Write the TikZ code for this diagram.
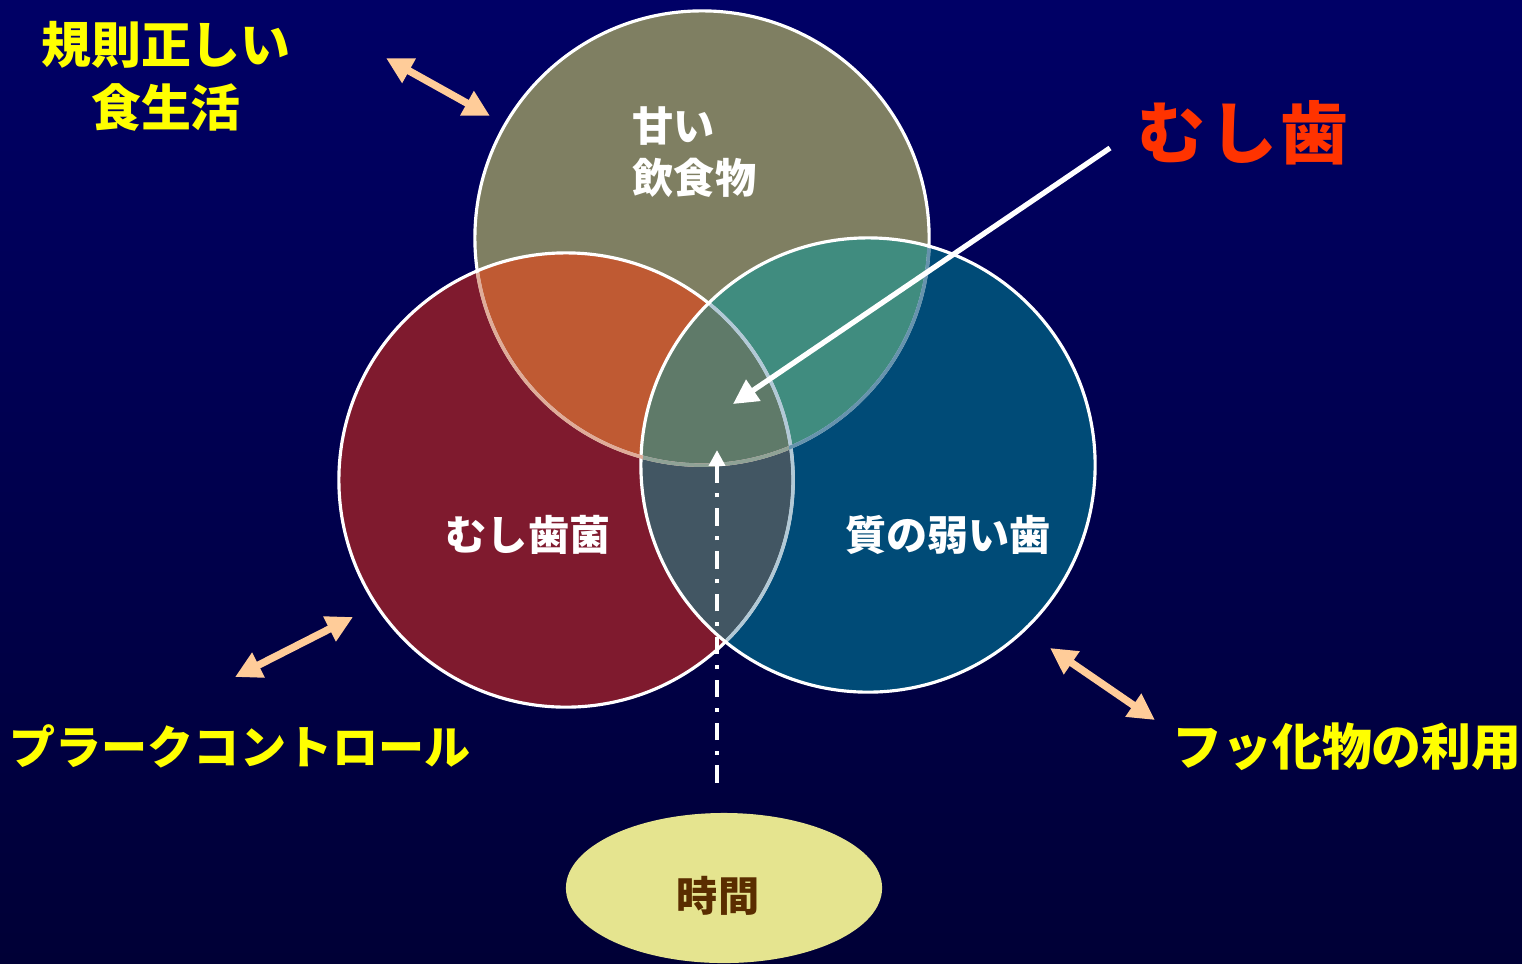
\documentclass[tikz,border=0pt]{standalone}
\usepackage{fontspec}
\newfontfamily\jp{Noto Sans CJK JP}
\usetikzlibrary{arrows.meta,shapes.geometric}
\definecolor{bgtop}{HTML}{000066}
\definecolor{bgbot}{HTML}{000036}
\definecolor{colT}{HTML}{7F7F62}
\definecolor{colL}{HTML}{7F1A2E}
\definecolor{colR}{HTML}{004B77}
\definecolor{colTL}{HTML}{BF5A33}
\definecolor{colTR}{HTML}{408C7F}
\definecolor{colLR}{HTML}{425663}
\definecolor{colC}{HTML}{5F7A69}
\definecolor{ellcol}{HTML}{E5E48F}
\definecolor{brown}{HTML}{5A2D00}
\definecolor{peach}{HTML}{FFCC99}
\definecolor{ylw}{HTML}{FFFF00}
\definecolor{redtxt}{HTML}{FF3300}
\begin{document}
\begin{tikzpicture}[x=0.01cm,y=-0.01cm,
  ylbl/.style={font=\jp\bfseries\fontsize{14.2pt}{18pt}\selectfont, text=ylw, align=center, inner sep=0pt},
  wlbl/.style={font=\jp\bfseries\fontsize{11.7pt}{14.8pt}\selectfont, text=white, inner sep=0pt},
  venn/.style={circle, minimum size=4.54cm, inner sep=0pt, draw=none},
  pk/.style={draw=peach, line width=2.1pt, {Triangle[length=7.5pt,width=7.5pt]}-{Triangle[length=7.5pt,width=7.5pt]}},
  rim/.style={draw=white, line width=0.9pt}]
\shade[top color=bgtop,bottom color=bgbot] (0,0) rectangle (1522,963);
\useasboundingbox (0,0) rectangle (1522,963);
% circles
\node[venn] (T) at (702,238) {};
\node[venn] (L) at (566,480) {};
\node[venn] (R) at (868,465) {};
\fill[colT] (T.center) circle[radius=2.27cm];
\fill[colL] (L.center) circle[radius=2.27cm];
\fill[colR] (R.center) circle[radius=2.27cm];
\begin{scope}
  \clip (L.center) circle[radius=2.27cm];
  \fill[colLR] (R.center) circle[radius=2.27cm];
\end{scope}
\begin{scope}
  \clip (T.center) circle[radius=2.27cm];
  \fill[colTL] (L.center) circle[radius=2.27cm];
  \fill[colTR] (R.center) circle[radius=2.27cm];
  \clip (L.center) circle[radius=2.27cm];
  \fill[colC] (R.center) circle[radius=2.27cm];
\end{scope}
\draw[rim] (T.center) circle[radius=2.27cm];
\draw[rim] (L.center) circle[radius=2.27cm];
\draw[rim] (R.center) circle[radius=2.27cm];
\begin{scope}
  \clip (R.center) circle[radius=2.25cm];
  \draw[draw=colR!30!white, line width=1pt] (L.center) circle[radius=2.27cm];
  \draw[draw=colR!60!white, line width=1pt] (T.center) circle[radius=2.27cm];
\end{scope}
\begin{scope}
  \clip (L.center) circle[radius=2.25cm];
  \draw[draw=colTL!50!white, line width=1pt] (T.center) circle[radius=2.27cm];
\end{scope}
\begin{scope}
  \clip (L.center) circle[radius=2.25cm];
  \clip (R.center) circle[radius=2.25cm];
  \draw[draw=colC!70!white, line width=1pt] (T.center) circle[radius=2.27cm];
\end{scope}
% circle texts
\node[wlbl, anchor=west] (sweet1) at (632,126) {甘い};
\node[wlbl, anchor=west] (sweet2) at (632,178) {飲食物};
\node[wlbl] (germ) at (528,535) {むし歯菌};
\node[wlbl] (weak) at (948,535) {質の弱い歯};
% outer labels
\node[ylbl] (diet) at (166,76) {規則正しい\\食生活};
\node[ylbl, font=\jp\bfseries\fontsize{13.1pt}{16pt}\selectfont] (plaque) at (240,746) {プラークコントロール};
\node[ylbl] (fluor) at (1347,747) {フッ化物の利用};
\node[font=\jp\bfseries\fontsize{19.3pt}{23pt}\selectfont, text=redtxt, inner sep=0pt] (caries) at (1243,133) {む\kern1pt し\kern1pt 歯};
% time ellipse
\node[ellipse, fill=ellcol, minimum width=3.16cm, minimum height=1.5cm, inner sep=0pt] (time) at (724,888) {};
\node[font=\jp\bfseries\fontsize{11.7pt}{14pt}\selectfont, text=brown, inner sep=0pt] (timetxt) at (718,896) {時間};
% peach arrows
\coordinate (p1a) at (386,58); \coordinate (p1b) at (490,116);
\coordinate (p2a) at (235,677); \coordinate (p2b) at (353,617);
\coordinate (p3a) at (1050,648); \coordinate (p3b) at (1155,720);
\draw[pk] (p1a) -- (p1b);
\draw[pk] (p2a) -- (p2b);
\draw[pk] (p3a) -- (p3b);
% white arrow to centre
\coordinate (wa) at (1110,148); \coordinate (wb) at (733,404);
\draw[white, line width=1.5pt, -{Triangle[length=7pt,width=7pt]}] (wa) -- (wb);
% dash-dot arrow
\coordinate (da) at (717,783); \coordinate (db) at (717,450);
\draw[white, line width=1.1pt, dash pattern=on 5pt off 3pt on 1.2pt off 3pt, -{Triangle[length=4.5pt,width=4.5pt]}] (da) -- (db);
\end{tikzpicture}
\end{document}
